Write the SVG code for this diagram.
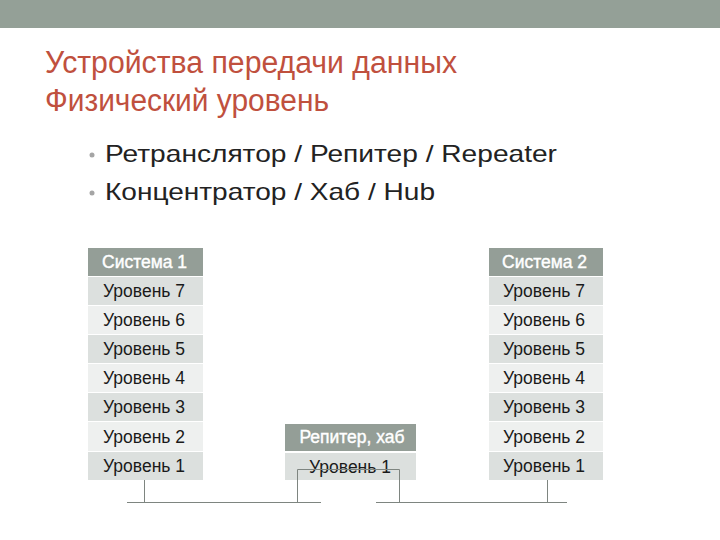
<svg xmlns="http://www.w3.org/2000/svg" width="720" height="540" viewBox="0 0 720 540">
<style>
.title{font-family:"Liberation Sans",Arial,sans-serif;font-size:31px;fill:#C0503E}
.bul{font-family:"Liberation Sans",Arial,sans-serif;font-size:24px;fill:#222}
.hdr{fill:#949E97}
.hdrt{font-family:"Liberation Sans",Arial,sans-serif;font-size:17.5px;fill:#fff;stroke:#fff;stroke-width:0.4}
.d{fill:#DCE0DE}
.l{fill:#EEF0EF}
.t{font-family:"Liberation Sans",Arial,sans-serif;font-size:17.5px;fill:#1a1a1a}
.ln{stroke:#7E8580;stroke-width:1;fill:none}
</style>
<rect x="0" y="0" width="720" height="540" fill="#fff"/>
<rect x="0" y="0" width="720" height="28" fill="#94A097"/>
<text class="title" x="45" y="73" textLength="412" lengthAdjust="spacingAndGlyphs">Устройства передачи данных</text>
<text class="title" x="45" y="111" textLength="284" lengthAdjust="spacingAndGlyphs">Физический уровень</text>
<circle cx="92" cy="155" r="2.5" fill="#A5A5A5"/>
<circle cx="92" cy="193" r="2.5" fill="#A5A5A5"/>
<text class="bul" x="105" y="162" textLength="452" lengthAdjust="spacingAndGlyphs">Ретранслятор / Репитер / Repeater</text>
<text class="bul" x="105" y="200" textLength="330" lengthAdjust="spacingAndGlyphs">Концентратор / Хаб / Hub</text>
<g id="system1">
<rect class="hdr" x="88" y="248" width="115" height="28"/>
<text class="hdrt" x="102" y="268">Система 1</text>
<rect class="d" x="88" y="277" width="115" height="28"/><text class="t" x="103" y="297">Уровень 7</text>
<rect class="l" x="88" y="306" width="115" height="28"/><text class="t" x="103" y="326">Уровень 6</text>
<rect class="d" x="88" y="335" width="115" height="28"/><text class="t" x="103" y="355">Уровень 5</text>
<rect class="l" x="88" y="364" width="115" height="28"/><text class="t" x="103" y="384">Уровень 4</text>
<rect class="d" x="88" y="393" width="115" height="28"/><text class="t" x="103" y="413">Уровень 3</text>
<rect class="l" x="88" y="422" width="115" height="29"/><text class="t" x="103" y="443">Уровень 2</text>
<rect class="d" x="88" y="452" width="115" height="28"/><text class="t" x="103" y="472">Уровень 1</text>
</g>
<g id="system2">
<rect class="hdr" x="489" y="248" width="114" height="28"/>
<text class="hdrt" x="502" y="268">Система 2</text>
<rect class="d" x="489" y="277" width="114" height="28"/><text class="t" x="503" y="297">Уровень 7</text>
<rect class="l" x="489" y="306" width="114" height="28"/><text class="t" x="503" y="326">Уровень 6</text>
<rect class="d" x="489" y="335" width="114" height="28"/><text class="t" x="503" y="355">Уровень 5</text>
<rect class="l" x="489" y="364" width="114" height="28"/><text class="t" x="503" y="384">Уровень 4</text>
<rect class="d" x="489" y="393" width="114" height="28"/><text class="t" x="503" y="413">Уровень 3</text>
<rect class="l" x="489" y="422" width="114" height="29"/><text class="t" x="503" y="443">Уровень 2</text>
<rect class="d" x="489" y="452" width="114" height="28"/><text class="t" x="503" y="472">Уровень 1</text>
</g>
<g id="hub">
<rect class="hdr" x="285" y="424" width="131" height="27"/>
<text class="hdrt" x="352" y="443" text-anchor="middle">Репитер, хаб</text>
<rect class="d" x="285" y="453" width="131" height="27"/>
<text class="t" x="350" y="473" text-anchor="middle">Уровень 1</text>
</g>
<g id="connectors">
<path class="ln" d="M144.5 480 V502.5 M127 502.5 H321 M297.5 502.5 V469.5 H399.5 V502.5 M376 502.5 H567 M547.5 480 V502.5"/>
</g>
</svg>
